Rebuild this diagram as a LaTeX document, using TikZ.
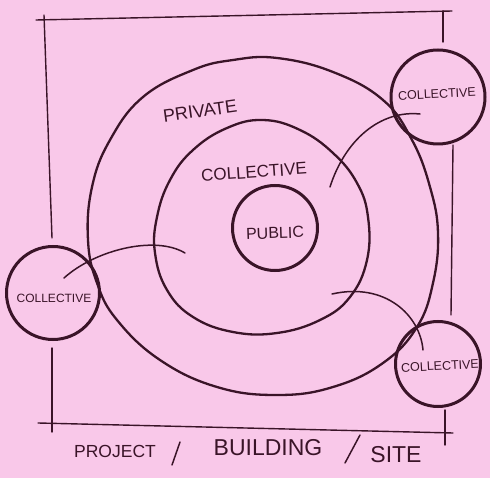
\documentclass[tikz,border=0pt]{standalone}
\usepackage{fontspec}
\setmainfont{Liberation Sans}
\definecolor{bgpink}{RGB}{249,200,233}
\definecolor{ink}{RGB}{58,20,40}
\begin{document}
\begin{tikzpicture}[x=1pt,y=-1pt,
  ink line/.style={draw=ink,line cap=round,line join=round},
  frameline/.style={ink line,line width=1.4pt},
  ringline/.style={ink line,line width=2.3pt},
  bubble/.style={circle,draw=ink,line width=3pt,inner sep=0pt},
  linkline/.style={ink line,line width=1.5pt},
  lbl/.style={text=ink,font=\fontsize{12.5}{13}\selectfont,inner sep=0pt}]
\fill[bgpink] (0,0) rectangle (490,478);
\useasboundingbox (0,0) rectangle (490,478);
% frame
\coordinate (tl) at (36,20); \coordinate (tr) at (452,11);
\coordinate (l1) at (44,15); \coordinate (l2) at (52,238);
\coordinate (l3) at (52,348); \coordinate (l4) at (52,432);
\coordinate (bl) at (38,423); \coordinate (br) at (453,433);
\coordinate (r1) at (443,11); \coordinate (r2) at (443,42);
\coordinate (r3) at (453,145); \coordinate (r4) at (451,315);
\coordinate (r5) at (445,410); \coordinate (r6) at (445,445);
\draw[frameline] (tl) -- (tr);
\draw[frameline] (l1) -- (l2);
\draw[frameline] (l3) -- (l4);
\draw[frameline] (bl) -- (br);
\draw[frameline] (r1) -- (r2);
\draw[frameline] (r3) -- (r4);
\draw[frameline] (r5) -- (r6);
% rings
\draw[ringline] plot[smooth cycle,tension=0.7] coordinates {(277,58) (333,72) (383,100) (412,140) (430,187) (438,233) (433,283) (417,327) (383,363) (333,387) (277,395) (217,387) (160,360) (117,320) (97,283) (88,240) (92,187) (110,140) (143,97) (193,70) (233,60)};
\draw[ringline] plot[smooth cycle,tension=0.7] coordinates {(263,120) (300,130) (333,153) (357,183) (368,217) (367,260) (350,297) (320,320) (277,333) (233,332) (193,317) (167,290) (155,253) (157,217) (170,180) (193,150) (227,128)};
\node[bubble,minimum size=85pt] (pub) at (275,228) {};
\node[lbl,font=\fontsize{16}{17}\selectfont,rotate=2] (publ) at (275,233) {PUBLIC};
% outer bubbles
\node[bubble,minimum size=94pt] (ctr) at (438,97) {};
\node[bubble,minimum size=93pt] (cl) at (53,293) {};
\node[bubble,minimum size=85pt] (cbr) at (438,364) {};
\node[lbl,rotate=3] at (437,94) {COLLECTIVE};
\node[lbl,font=\fontsize{12}{13}\selectfont,rotate=0] at (54,298) {COLLECTIVE};
\node[lbl,rotate=3] at (440,366) {COLLECTIVE};
% ring labels
\node[lbl,font=\fontsize{18}{19}\selectfont,rotate=8] (priv) at (200,111) {PRIVATE};
\node[lbl,font=\fontsize{17}{18}\selectfont,rotate=4] (coll) at (254,172) {COLLECTIVE};
% connectors
\coordinate (a1) at (420,114); \coordinate (a2) at (330,187);
\draw[linkline] (a1) .. controls (380,110) and (345,140) .. (a2);
\coordinate (b1) at (64,278); \coordinate (b2) at (185,253);
\draw[linkline] (b1) .. controls (95,250) and (155,235) .. (b2);
\coordinate (c1) at (332,294); \coordinate (c2) at (423,350);
\draw[linkline] (c1) .. controls (385,282) and (420,315) .. (c2);
% bottom labels
\node[lbl,font=\fontsize{17.5}{18}\selectfont] (proj) at (115,451) {PROJECT};
\node[lbl,font=\fontsize{23}{24}\selectfont] (bldg) at (268,448) {BUILDING};
\node[lbl,font=\fontsize{23}{24}\selectfont] (site) at (396,455) {SITE};
\coordinate (s1) at (180,442); \coordinate (s2) at (172,465);
\coordinate (s3) at (360,435); \coordinate (s4) at (345,463);
\draw[linkline] (s1) -- (s2);
\draw[linkline] (s3) -- (s4);
\end{tikzpicture}
\end{document}
